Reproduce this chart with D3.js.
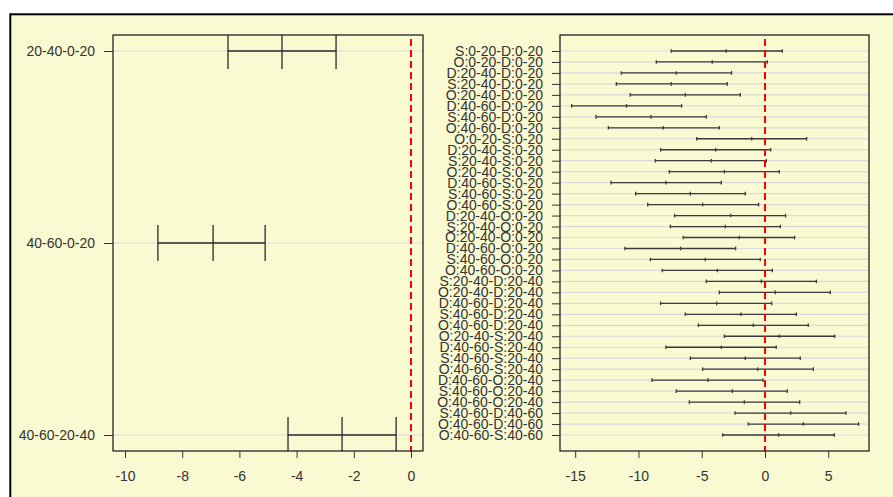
<!DOCTYPE html>
<html>
<head>
<meta charset="utf-8">
<script src="https://cdn.jsdelivr.net/npm/d3@7"></script>
<style>
  body { margin: 0; background: #fff; }
  text { font-family: "Liberation Sans", Arial, sans-serif; font-size: 14px; fill: #333; }
</style>
</head>
<body>
<div id="chart"></div>
<script>
const leftLabels = ["20-40-0-20", "40-60-0-20", "40-60-20-40"];
const leftLower = [-6.40, -8.85, -4.30];
const leftMid   = [-4.51, -6.92, -2.41];
const leftUpper = [-2.62, -5.10, -0.52];
const leftTicks = [-10, -8, -6, -4, -2, 0];

const rightLabels = [
  "S:0-20-D:0-20", "O:0-20-D:0-20", "D:20-40-D:0-20", "S:20-40-D:0-20", "O:20-40-D:0-20",
  "D:40-60-D:0-20", "S:40-60-D:0-20", "O:40-60-D:0-20", "O:0-20-S:0-20", "D:20-40-S:0-20",
  "S:20-40-S:0-20", "O:20-40-S:0-20", "D:40-60-S:0-20", "S:40-60-S:0-20", "O:40-60-S:0-20",
  "D:20-40-O:0-20", "S:20-40-O:0-20", "O:20-40-O:0-20", "D:40-60-O:0-20", "S:40-60-O:0-20",
  "O:40-60-O:0-20", "S:20-40-D:20-40", "O:20-40-D:20-40", "D:40-60-D:20-40", "S:40-60-D:20-40",
  "O:40-60-D:20-40", "O:20-40-S:20-40", "D:40-60-S:20-40", "S:40-60-S:20-40", "O:40-60-S:20-40",
  "D:40-60-O:20-40", "S:40-60-O:20-40", "O:40-60-O:20-40", "S:40-60-D:40-60", "O:40-60-D:40-60",
  "O:40-60-S:40-60"
];
const rightLower = [-7.41, -8.59, -11.36, -11.75, -10.65, -15.28, -13.36, -12.38, -5.40, -8.25,
  -8.67, -7.56, -12.17, -10.22, -9.27, -7.14, -7.48, -6.46, -11.07, -9.06,
  -8.12, -4.64, -3.61, -8.25, -6.30, -5.27, -3.21, -7.83, -5.90, -4.93,
  -8.93, -7.01, -5.98, -2.37, -1.32, -3.35];
const rightMid = [-3.06, -4.17, -7.01, -7.41, -6.30, -10.94, -9.01, -8.04, -1.05, -3.90,
  -4.24, -3.21, -7.83, -5.90, -4.93, -2.71, -3.13, -2.03, -6.67, -4.72,
  -3.77, -0.29, 0.81, -3.82, -1.90, -0.92, 1.13, -3.45, -1.56, -0.58,
  -4.51, -2.58, -1.63, 2.03, 3.03, 1.08];
const rightUpper = [1.37, 0.18, -2.64, -2.98, -1.95, -6.59, -4.64, -3.61, 3.29, 0.45,
  0.11, 1.13, -3.45, -1.56, -0.50, 1.63, 1.21, 2.34, -2.32, -0.37,
  0.58, 4.06, 5.16, 0.53, 2.48, 3.42, 5.51, 0.89, 2.79, 3.82,
  -0.16, 1.76, 2.74, 6.40, 7.40, 5.48];
const rightTicks = [-15, -10, -5, 0, 5];

const width = 893, height = 497;
const svg = d3.select("#chart").append("svg").attr("width", width).attr("height", height);

// outer frame
svg.append("rect").attr("x", 10.3).attr("y", 14.3).attr("width", 900).attr("height", 500)
  .attr("fill", "#FAFAD2").attr("stroke", "#000").attr("stroke-width", 2);

function panel(opts) {
  const { id, left, right, top, bottom, domain, labels, lower, mid, upper, ticks, capHalf, tickLen, lineColor } = opts;
  const x = d3.scaleLinear().domain(domain).range([left, right]);
  const y = d3.scalePoint().domain(labels).range([51, 435]);
  const rows = labels.map((l, i) => ({ label: l, lo: lower[i], mid: mid[i], hi: upper[i] }));

  svg.append("clipPath").attr("id", id).append("rect")
    .attr("x", left).attr("y", top).attr("width", right - left).attr("height", bottom - top);
  const g = svg.append("g").attr("clip-path", `url(#${id})`);

  // grid lines
  g.selectAll(".grid").data(labels).enter().append("line")
    .attr("x1", left).attr("x2", right)
    .attr("y1", d => y(d)).attr("y2", d => y(d))
    .attr("stroke", "#dadada").attr("stroke-width", 1.2);

  // intervals
  g.selectAll(".iv").data(rows).enter().append("line")
    .attr("x1", d => x(d.lo)).attr("x2", d => x(d.hi))
    .attr("y1", d => y(d.label)).attr("y2", d => y(d.label))
    .attr("stroke", lineColor).attr("stroke-width", 1.3);
  ["lo", "mid", "hi"].forEach(k => {
    g.selectAll(".cap-" + k).data(rows).enter().append("line")
      .attr("x1", d => x(d[k])).attr("x2", d => x(d[k]))
      .attr("y1", d => y(d.label) - capHalf).attr("y2", d => y(d.label) + capHalf)
      .attr("stroke", lineColor).attr("stroke-width", 1.3);
  });

  // zero reference
  g.append("line").attr("x1", x(0)).attr("x2", x(0)).attr("y1", top).attr("y2", bottom)
    .attr("stroke", "red").attr("stroke-width", 2)
    .attr("stroke-dasharray", "7,4").attr("stroke-dashoffset", 7);

  // box
  svg.append("rect").attr("x", left).attr("y", top).attr("width", right - left).attr("height", bottom - top)
    .attr("fill", "none").attr("stroke", "#111").attr("stroke-width", 1.2);

  // x axis
  const xa = svg.append("g").attr("transform", `translate(0,${bottom})`)
    .call(d3.axisBottom(x).tickValues(ticks).tickSize(7).tickPadding(13).tickFormat(d3.format("d")));
  xa.select(".domain").remove();
  xa.selectAll("line").attr("stroke", "#333");
  xa.selectAll("text").attr("font-size", 14).attr("fill", "#333")
    .attr("font-family", "Liberation Sans, Arial, sans-serif").text(d => d < 0 ? "-" + Math.abs(d) : d);

  // y axis
  const ya = svg.append("g").attr("transform", `translate(${left},0)`)
    .call(d3.axisLeft(y).tickSize(tickLen).tickPadding(9));
  ya.select(".domain").remove();
  ya.selectAll("line").attr("stroke", "#333");
  ya.selectAll("text").attr("font-size", 14).attr("fill", "#333")
    .attr("font-family", "Liberation Sans, Arial, sans-serif");
}

panel({ id: "clipL", left: 113, right: 423, top: 35, bottom: 451, domain: [-10.42, 0.42],
  labels: leftLabels, lower: leftLower, mid: leftMid, upper: leftUpper, ticks: leftTicks,
  capHalf: 18, tickLen: 9, lineColor: "#2a2a2a" });

panel({ id: "clipR", left: 560, right: 869, top: 35, bottom: 451, domain: [-16.2, 8.22],
  labels: rightLabels, lower: rightLower, mid: rightMid, upper: rightUpper, ticks: rightTicks,
  capHalf: 1.8, tickLen: 8, lineColor: "#3a3a3a" });
</script>
</body>
</html>
